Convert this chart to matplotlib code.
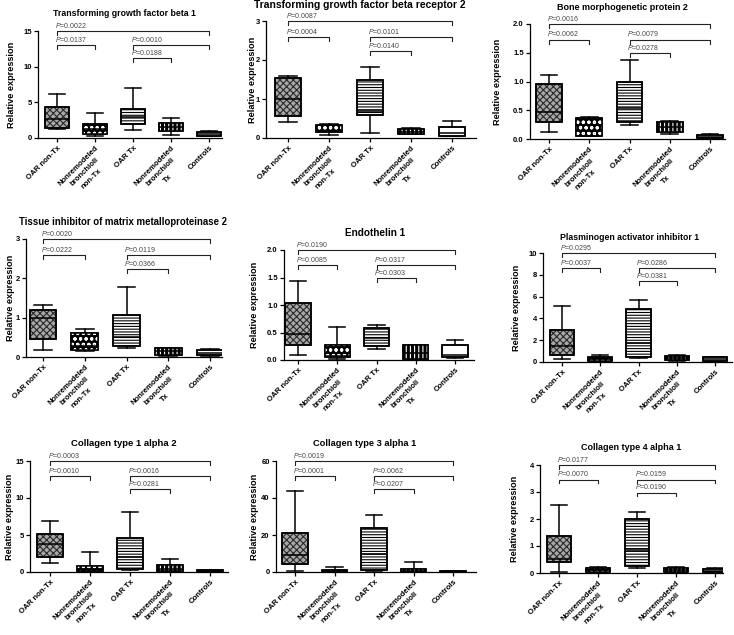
import matplotlib.pyplot as plt
from matplotlib.patches import PathPatch
from matplotlib.transforms import blended_transform_factory
from matplotlib.ticker import FormatStrFormatter

plt.rcParams["font.family"] = ["Liberation Sans", "DejaVu Sans"]
plt.rcParams["mathtext.fontset"] = "custom"
plt.rcParams["mathtext.it"] = "Liberation Sans:italic"
plt.rcParams["mathtext.rm"] = "Liberation Sans"
plt.rcParams["hatch.linewidth"] = 0.8

groups = ["OAR non-Tx", "Nonremodeled\nbronchioli\nnon-Tx", "OAR Tx",
          "Nonremodeled\nbronchioli\nTx", "Controls"]

titles = ["Transforming growth factor beta 1",
          "Transforming growth factor beta receptor 2",
          "Bone morphogenetic protein 2",
          "Tissue inhibitor of matrix metalloproteinase 2",
          "Endothelin 1",
          "Plasminogen activator inhibitor 1",
          "Collagen type 1 alpha 2",
          "Collagen type 3 alpha 1",
          "Collagen type 4 alpha 1"]

# rows: min, q1, median, q3, max  (one row per group)
tgfb1 = [[1.2, 1.4, 2.7, 4.3, 6.2], [0.3, 0.6, 1.3, 2.0, 3.5], [1.15, 2.0, 3.0, 4.0, 7.0],
         [0.46, 0.92, 1.5, 2.08, 2.77], [0.25, 0.32, 0.55, 0.83, 1.0]]
tgfbr2 = [[0.4, 0.57, 1.0, 1.55, 1.6], [0.085, 0.145, 0.19, 0.34, 0.37], [0.13, 0.6, 0.68, 1.48, 1.82],
          [0.1, 0.11, 0.16, 0.23, 0.25], [0.04, 0.06, 0.12, 0.29, 0.43]]
bmp2 = [[0.12, 0.29, 0.47, 0.96, 1.12], [0.05, 0.06, 0.14, 0.36, 0.38], [0.25, 0.29, 0.54, 1.0, 1.38],
        [0.09, 0.12, 0.21, 0.29, 0.31], [0.005, 0.01, 0.035, 0.07, 0.08]]
timp2 = [[0.17, 0.46, 1.0, 1.19, 1.32], [0.15, 0.18, 0.29, 0.61, 0.71], [0.235, 0.27, 0.5, 1.07, 1.79],
         [0.025, 0.04, 0.14, 0.23, 0.24], [0.03, 0.04, 0.1, 0.17, 0.21]]
et1 = [[0.09, 0.28, 0.48, 1.04, 1.43], [0.025, 0.05, 0.07, 0.265, 0.6], [0.2, 0.25, 0.4, 0.58, 0.645],
       [0.01, 0.025, 0.12, 0.265, 0.28], [0.04, 0.05, 0.085, 0.265, 0.36]]
pai1 = [[0.25, 0.68, 1.5, 2.98, 5.17], [0.03, 0.09, 0.3, 0.46, 0.68], [0.4, 0.46, 1.7, 4.9, 5.7],
        [0.06, 0.15, 0.34, 0.55, 0.65], [0.03, 0.09, 0.25, 0.43, 0.46]]
col1a2 = [[1.24, 2.0, 3.77, 5.19, 6.88], [0.09, 0.18, 0.36, 0.8, 2.75], [0.31, 0.44, 2.0, 4.53, 8.08],
          [0.09, 0.18, 0.44, 0.93, 1.78], [0.04, 0.09, 0.13, 0.22, 0.27]]
col3a1 = [[0.5, 4.1, 9.05, 21.0, 43.8], [0.1, 0.2, 0.5, 0.9, 2.84], [0.4, 1.2, 10.0, 24.0, 30.7],
          [0.1, 0.2, 0.7, 1.6, 5.3], [0.05, 0.1, 0.15, 0.3, 0.35]]
col4a1 = [[0.04, 0.4, 0.51, 1.37, 2.51], [0.02, 0.04, 0.1, 0.18, 0.22], [0.18, 0.27, 0.85, 2.0, 2.27],
          [0.02, 0.04, 0.1, 0.18, 0.22], [0.02, 0.04, 0.09, 0.15, 0.17]]

# P values for comparisons (0-4), (0-1), (2-4), (2-3)
p_tgfb1 = ["0.0022", "0.0137", "0.0010", "0.0188"]
p_tgfbr2 = ["0.0087", "0.0004", "0.0101", "0.0140"]
p_bmp2 = ["0.0016", "0.0062", "0.0079", "0.0278"]
p_timp2 = ["0.0020", "0.0222", "0.0119", "0.0366"]
p_et1 = ["0.0190", "0.0085", "0.0317", "0.0303"]
p_pai1 = ["0.0295", "0.0037", "0.0286", "0.0381"]
p_col1a2 = ["0.0003", "0.0010", "0.0016", "0.0281"]
p_col3a1 = ["0.0019", "0.0001", "0.0062", "0.0207"]
p_col4a1 = ["0.0177", "0.0070", "0.0159", "0.0190"]

yticks = [[0, 5, 10, 15], [0, 1, 2, 3], [0, 0.5, 1.0, 1.5, 2.0], [0, 1, 2, 3],
          [0, 0.5, 1.0, 1.5, 2.0], [0, 2, 4, 6, 8, 10], [0, 5, 10, 15], [0, 20, 40, 60],
          [0, 1, 2, 3, 4]]

stats_all = [tgfb1, tgfbr2, bmp2, timp2, et1, pai1, col1a2, col3a1, col4a1]
p_all = [p_tgfb1, p_tgfbr2, p_bmp2, p_timp2, p_et1, p_pai1, p_col1a2, p_col3a1, p_col4a1]
pairs = [(0, 4), (0, 1), (2, 4), (2, 3)]
levels = [1.0, 0.865, 0.865, 0.745]

# pixel layout: axis left, axis right, y top, y zero, first box, last box,
# title x, title y, title size, ylabel x
layout = [
    (38, 222, 31, 138, 57, 209, 124, 14, 6.3, 12),
    (266, 476, 21, 138, 288, 452, 360, 5, 7.4, 253),
    (530, 725, 24, 139, 549, 710, 622, 8, 6.5, 498),
    (26, 222, 239, 357, 43, 210, 123, 222, 6.9, 11),
    (284, 474, 250, 360, 298, 455, 375, 233, 7.2, 255),
    (543, 732, 253, 362, 562, 715, 630, 238, 6.3, 517),
    (30, 228, 461, 572, 50, 210, 124, 443, 6.8, 10),
    (276, 476, 461, 572, 295, 453, 365, 443, 6.7, 255),
    (540, 723, 465, 573, 559, 715, 631, 448, 6.5, 515),
]

box_fill = ["#a8a8a8", "black", "white", "black", "white"]
box_hatch = ["xxxxx", "ooo", "------", "||||", None]
hatch_col = ["#2a2a2a", "white", "black", "white", None]

W, H = 734, 635
fig = plt.figure(figsize=(W / 100, H / 100), dpi=100)

for k in range(9):
    left, right, ytop, ybot, c0, c4, tx, ty, tsize, ylx = layout[k]
    ax = fig.add_axes([left / W, 1 - ybot / H, (right - left) / W, (ybot - ytop) / H])
    sp = (c4 - c0) / 4
    ax.set_xlim(-(c0 - left) / sp, 4 + (right - c4) / sp)
    ax.set_ylim(0, yticks[k][-1])

    stats = []
    for g in range(5):
        lo, q1, med, q3, hi = stats_all[k][g]
        stats.append(dict(whislo=lo, q1=q1, med=med, q3=q3, whishi=hi, fliers=[]))
    bp = ax.bxp(stats, positions=range(5), widths=0.64, capwidths=0.42,
                patch_artist=True, showfliers=False)
    for g, box in enumerate(bp["boxes"]):
        box.set_facecolor(box_fill[g])
        box.set_edgecolor("black")
        box.set_linewidth(1.1)
        box.set_zorder(2)
        if box_hatch[g]:
            ax.add_patch(PathPatch(box.get_path(), fc="none", ec=hatch_col[g],
                                   hatch=box_hatch[g], lw=0, zorder=2.1))
        ax.add_patch(PathPatch(box.get_path(), fc="none", ec="black", lw=1.1, zorder=2.2))
    for ln in bp["whiskers"] + bp["caps"]:
        ln.set_color("black")
        ln.set_linewidth(1.1)
        ln.set_zorder(1.9)
    for ln in bp["medians"]:
        ln.set_color("black")
        ln.set_linewidth(1.1)
        ln.set_zorder(2.3)

    trans = blended_transform_factory(ax.transData, ax.transAxes)
    for (i, j), lv, p in zip(pairs, levels, p_all[k]):
        ax.plot([i, i, j, j], [lv - 0.035, lv, lv, lv - 0.035], color="#222222",
                lw=0.8, transform=trans, clip_on=False)
        ax.annotate(r"$\mathit{P}$=" + p, xy=(i, lv), xycoords=trans,
                    xytext=(-1.5, 0.8), textcoords="offset points", ha="left",
                    va="bottom", fontsize=5, color="#444444", annotation_clip=False)

    for s in ["top", "right"]:
        ax.spines[s].set_visible(False)
    for s in ["left", "bottom"]:
        ax.spines[s].set_linewidth(0.9)
    ax.set_yticks(yticks[k])
    if yticks[k][-1] == 2.0:
        ax.yaxis.set_major_formatter(FormatStrFormatter("%.1f"))
    else:
        ax.yaxis.set_major_formatter(FormatStrFormatter("%d"))
    ax.set_xticks(range(5))
    ax.set_xticklabels(groups, rotation=45, ha="right", va="top",
                       rotation_mode="anchor", multialignment="center",
                       linespacing=1.45, fontweight="bold", fontsize=5.6)
    ax.tick_params(direction="out", length=3, width=0.9, pad=1.5)
    ax.tick_params(axis="y", labelsize=5.5)
    for lab in ax.get_yticklabels():
        lab.set_fontweight("bold")

    ax.set_ylabel("Relative expression", fontsize=6.6, fontweight="bold")
    ax.yaxis.set_label_coords((ylx + 4 - left) / (right - left), 0.5)
    fig.text(tx / W, 1 - ty / H, titles[k], ha="center", va="center",
             fontsize=tsize, fontweight="bold")

fig.savefig("out.png", dpi=100)
